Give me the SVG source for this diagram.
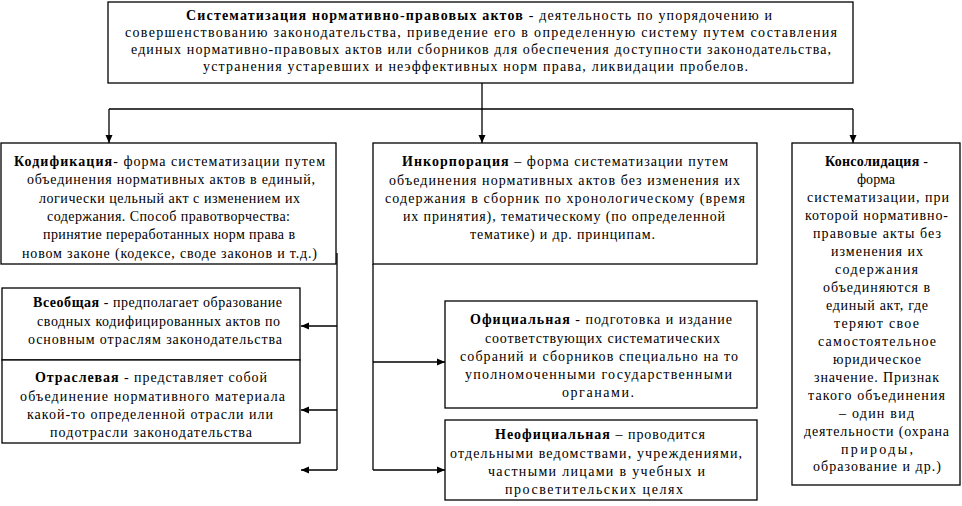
<svg xmlns="http://www.w3.org/2000/svg" width="962" height="506" viewBox="0 0 962 506">
<defs>
<marker id="ah" markerUnits="userSpaceOnUse" markerWidth="8" markerHeight="8" refX="8" refY="4" orient="auto">
<path d="M0,0.5 L8,4 L0,7.5 z" fill="#000"/>
</marker>
<style>
rect{fill:#fff;stroke:#000;stroke-width:1.3}
text{font-family:"Liberation Serif","Times New Roman",serif;font-size:14px;fill:#000}
.b{font-weight:bold}
.c line,.c polyline{stroke:#000;stroke-width:1.3;fill:none}
.a{marker-end:url(#ah)}
</style>
</defs>
<rect x="0" y="0" width="962" height="506" style="stroke:none;fill:#fff"/>
<g id="top">
<rect x="108" y="2" width="745" height="81"/>
<text x="186" y="20" textLength="586" lengthAdjust="spacing"><tspan class="b">Систематизация нормативно-правовых актов</tspan> - деятельность по упорядочению и</text>
<text x="125" y="37" textLength="712" lengthAdjust="spacing">совершенствованию законодательства, приведение его в определенную систему путем составления</text>
<text x="131" y="54" textLength="700" lengthAdjust="spacing">единых нормативно-правовых актов или сборников для обеспечения доступности законодательства,</text>
<text x="203" y="71" textLength="545" lengthAdjust="spacing">устранения устаревших и неэффективных норм права, ликвидации пробелов.</text>
</g>
<g id="kodif">
<rect x="1" y="143" width="335" height="121"/>
<text x="14" y="166" textLength="311" lengthAdjust="spacing"><tspan class="b">Кодификация</tspan>- форма систематизации путем</text>
<text x="27" y="184" textLength="288" lengthAdjust="spacing">объединения нормативных актов в единый,</text>
<text x="39" y="202.5" textLength="261" lengthAdjust="spacing">логически цельный акт с изменением их</text>
<text x="47" y="221" textLength="243" lengthAdjust="spacing">содержания. Способ правотворчества:</text>
<text x="43" y="239" textLength="252" lengthAdjust="spacing">принятие переработанных норм права в</text>
<text x="22" y="257.5" textLength="295" lengthAdjust="spacing">новом законе (кодексе, своде законов и т.д.)</text>
</g>
<g id="inkorp">
<rect x="373" y="143" width="384" height="121"/>
<text x="402" y="166" textLength="326" lengthAdjust="spacing"><tspan class="b">Инкорпорация</tspan> – форма систематизации путем</text>
<text x="389" y="184.5" textLength="351" lengthAdjust="spacing">объединения нормативных актов без изменения их</text>
<text x="385" y="203" textLength="360" lengthAdjust="spacing">содержания в сборник по хронологическому (время</text>
<text x="403" y="221" textLength="322" lengthAdjust="spacing">их принятия), тематическому (по определенной</text>
<text x="470" y="239" textLength="185" lengthAdjust="spacing">тематике) и др. принципам.</text>
</g>
<g id="konsol">
<rect x="792" y="143" width="168" height="342"/>
<text x="825" y="166" textLength="103" lengthAdjust="spacing"><tspan class="b">Консолидация</tspan> -</text>
<text x="857" y="184" textLength="38" lengthAdjust="spacing">форма</text>
<text x="807" y="202" textLength="142" lengthAdjust="spacing">систематизации, при</text>
<text x="805" y="220" textLength="143" lengthAdjust="spacing">которой нормативно-</text>
<text x="813" y="238" textLength="128" lengthAdjust="spacing">правовые акты без</text>
<text x="831" y="256" textLength="92" lengthAdjust="spacing">изменения их</text>
<text x="835" y="274" textLength="83" lengthAdjust="spacing">содержания</text>
<text x="823" y="292" textLength="107" lengthAdjust="spacing">объединяются в</text>
<text x="826" y="310" textLength="102" lengthAdjust="spacing">единый акт, где</text>
<text x="834" y="328" textLength="85" lengthAdjust="spacing">теряют свое</text>
<text x="818" y="346" textLength="118" lengthAdjust="spacing">самостоятельное</text>
<text x="833" y="364" textLength="88" lengthAdjust="spacing">юридическое</text>
<text x="814" y="382" textLength="125" lengthAdjust="spacing">значение. Признак</text>
<text x="808" y="400" textLength="137" lengthAdjust="spacing">такого объединения</text>
<text x="839" y="418" textLength="75" lengthAdjust="spacing">– один вид</text>
<text x="804" y="436" textLength="145" lengthAdjust="spacing">деятельности (охрана</text>
<text x="841" y="454" textLength="72" lengthAdjust="spacing">природы,</text>
<text x="813" y="471" textLength="128" lengthAdjust="spacing">образование и др.)</text>
</g>
<g id="vseob">
<rect x="2" y="288" width="298" height="72"/>
<text x="33" y="307" textLength="249" lengthAdjust="spacing"><tspan class="b">Всеобщая</tspan> - предполагает образование</text>
<text x="37" y="325.5" textLength="243" lengthAdjust="spacing">сводных кодифицированных актов по</text>
<text x="28" y="344" textLength="254" lengthAdjust="spacing">основным отраслям законодательства</text>
</g>
<g id="otrasl">
<rect x="2" y="360" width="298" height="83"/>
<text x="35" y="382" textLength="232" lengthAdjust="spacing"><tspan class="b">Отраслевая</tspan> - представляет собой</text>
<text x="20" y="400.5" textLength="265" lengthAdjust="spacing">объединение нормативного материала</text>
<text x="27" y="419" textLength="246" lengthAdjust="spacing">какой-то определенной отрасли или</text>
<text x="50" y="437" textLength="202" lengthAdjust="spacing">подотрасли законодательства</text>
</g>
<g id="ofic">
<rect x="445" y="301" width="312" height="107"/>
<text x="470" y="324" textLength="262" lengthAdjust="spacing"><tspan class="b">Официальная</tspan> - подготовка и издание</text>
<text x="485" y="342.5" textLength="235" lengthAdjust="spacing">соответствующих систематических</text>
<text x="460" y="361" textLength="278" lengthAdjust="spacing">собраний и сборников специально на то</text>
<text x="465" y="379" textLength="267" lengthAdjust="spacing">уполномоченными государственными</text>
<text x="562" y="397" textLength="72" lengthAdjust="spacing">органами.</text>
</g>
<g id="neofic">
<rect x="445" y="420" width="312" height="80"/>
<text x="495" y="439" textLength="210" lengthAdjust="spacing"><tspan class="b">Неофициальная</tspan> – проводится</text>
<text x="450" y="457.5" textLength="292" lengthAdjust="spacing">отдельными ведомствами, учреждениями,</text>
<text x="488" y="476" textLength="217" lengthAdjust="spacing">частными лицами в учебных и</text>
<text x="505" y="494" textLength="178" lengthAdjust="spacing">просветительских целях</text>
</g>
<g id="connectors" class="c">
<line x1="482" y1="83" x2="482" y2="109"/>
<line x1="109" y1="109" x2="853" y2="109"/>
<line class="a" x1="109" y1="109" x2="109" y2="143"/>
<line class="a" x1="482" y1="109" x2="482" y2="143"/>
<line class="a" x1="853" y1="109" x2="853" y2="143"/>
<line x1="337" y1="253" x2="337" y2="470"/>
<line class="a" x1="337" y1="326" x2="301" y2="326"/>
<line class="a" x1="337" y1="410" x2="301" y2="410"/>
<line class="a" x1="337" y1="470" x2="301" y2="470"/>
<line x1="373" y1="264" x2="373" y2="470"/>
<line class="a" x1="373" y1="362" x2="445" y2="362"/>
<line class="a" x1="373" y1="470" x2="445" y2="470"/>
</g>
</svg>
